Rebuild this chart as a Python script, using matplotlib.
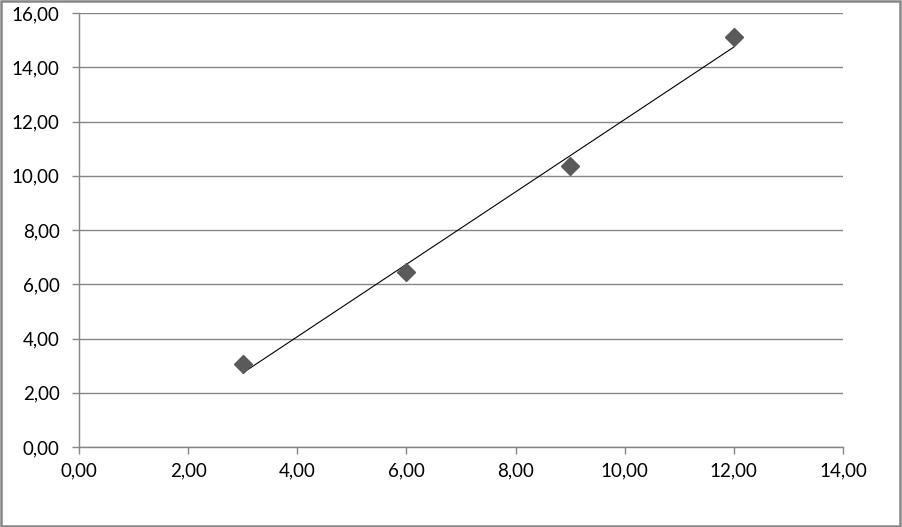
import numpy as np
import matplotlib
matplotlib.use('Agg')
import matplotlib.pyplot as plt
from matplotlib.ticker import FuncFormatter, MultipleLocator

# Data
x_vals = [3, 6, 9, 12]
y_vals = [3.05, 6.45, 10.35, 15.1]

plt.rcParams['font.family'] = ['Lato', 'DejaVu Sans']

fig = plt.figure(figsize=(9.02, 5.27), dpi=100)
ax = fig.add_axes([79 / 902, 80 / 527, (843 - 79) / 902, (447 - 13) / 527])

# Linear trend line (least squares)
slope, intercept = np.polyfit(x_vals, y_vals, 1)
x_fit = np.array([min(x_vals), max(x_vals)])
ax.plot(x_fit, slope * x_fit + intercept, color='black', lw=0.8, zorder=3)

ax.plot(x_vals, y_vals, linestyle='none', marker='D', markersize=9.2,
        color='#5a5a5a', zorder=4)

ax.set_xlim(0, 14)
ax.set_ylim(0, 16)
ax.xaxis.set_major_locator(MultipleLocator(2))
ax.yaxis.set_major_locator(MultipleLocator(2))
fmt = FuncFormatter(lambda v, p: f'{v:.2f}'.replace('.', ','))
ax.xaxis.set_major_formatter(fmt)
ax.yaxis.set_major_formatter(fmt)

ax.grid(axis='y', color='#868686', lw=1.0)
ax.set_axisbelow(True)
for side in ['top', 'right']:
    ax.spines[side].set_visible(False)
for side in ['left', 'bottom']:
    ax.spines[side].set_color('#868686')
    ax.spines[side].set_linewidth(1.0)
ax.tick_params(axis='both', direction='out', length=5, width=1.0,
               color='#868686', labelsize=13.5, labelcolor='black')
ax.tick_params(axis='x', pad=6)
ax.tick_params(axis='y', pad=9)

# Outer border of the chart area
fig.patches.append(plt.Rectangle((0.001, 0.002), 0.997, 0.996, transform=fig.transFigure,
                                 fill=False, edgecolor='#878787', lw=1.8))

fig.savefig('out.png', dpi=100)
